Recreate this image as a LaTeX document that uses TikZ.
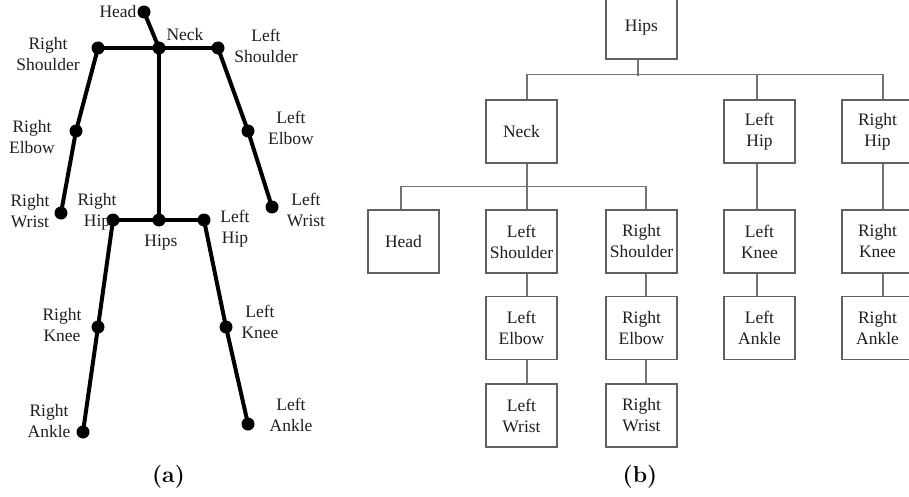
\documentclass[tikz,border=0pt]{standalone}
\usepackage{fontspec}
\newfontfamily\tms{Liberation Serif}
\begin{document}
\begin{tikzpicture}[x=1pt,y=-1pt,
  joint/.style={circle,fill=black,inner sep=0pt,minimum size=13pt},
  bone/.style={line width=4pt,black},
  lbl/.style={font=\tms\fontsize{17.5}{21}\selectfont,text=black!88,align=center,inner sep=0pt},
  tbox/.style={draw=black!62,line width=1.4pt,minimum width=71pt,minimum height=63pt,inner sep=0pt,
               font=\tms\fontsize{17.5}{21}\selectfont,text=black!88,align=center},
  conn/.style={draw=black!55,line width=1.4pt},
  captext/.style={font=\bfseries\fontsize{23}{27}\selectfont,anchor=base,inner sep=0pt}]
\useasboundingbox[fill=white] (0,0) rectangle (909,497);

% ---------- (a) skeleton ----------
\node[joint] (head) at (144,12) {};
\node[joint] (neck) at (159,48) {};
\node[joint] (rsh) at (98,48) {};
\node[joint] (lsh) at (218,48) {};
\node[joint] (relb) at (76,131) {};
\node[joint] (lelb) at (248,131) {};
\node[joint] (rwr) at (61,213) {};
\node[joint] (lwr) at (272,207) {};
\node[joint] (hips) at (159,220) {};
\node[joint] (rhip) at (113,220) {};
\node[joint] (lhip) at (204,220) {};
\node[joint] (rkn) at (98,327) {};
\node[joint] (lkn) at (226,327) {};
\node[joint] (rank) at (83,432) {};
\node[joint] (lank) at (248,424) {};

\draw[bone] (head.center) -- (neck.center);
\draw[bone] (rsh.center) -- (lsh.center);
\draw[bone] (neck.center) -- (hips.center);
\draw[bone] (rsh.center) -- (relb.center) -- (rwr.center);
\draw[bone] (lsh.center) -- (lelb.center) -- (lwr.center);
\draw[bone] (rhip.center) -- (lhip.center);
\draw[bone] (rhip.center) -- (rkn.center) -- (rank.center);
\draw[bone] (lhip.center) -- (lkn.center) -- (lank.center);

\node[lbl] (Lhead) at (118,12) {Head};
\node[lbl] (Lneck) at (185,35) {Neck};
\node[lbl] (Lrsh) at (48,54) {Right\\Shoulder};
\node[lbl] (Llsh) at (266,46) {Left\\Shoulder};
\node[lbl] (Lrelb) at (32,137) {Right\\Elbow};
\node[lbl] (Llelb) at (291,128) {Left\\Elbow};
\node[lbl] (Lrwr) at (30,211) {Right\\Wrist};
\node[lbl] (Lrhip) at (97,212) {Right\\Hip};
\node[lbl] (Llwr) at (306,210) {Left\\Wrist};
\node[lbl] (Llhip) at (235,229) {Left\\Hip};
\node[lbl] (Lhips) at (161,243) {Hips};
\node[lbl] (Lrkn) at (62,325) {Right\\Knee};
\node[lbl] (Llkn) at (260,322) {Left\\Knee};
\node[lbl] (Lrank) at (49,421) {Right\\Ankle};
\node[lbl] (Llank) at (291,415) {Left\\Ankle};

\node[captext] (capa) at (168.5,482) {(a)};

% ---------- (b) hierarchy ----------
\node[tbox] (Thips) at (641.5,27.5) {Hips};
\node[tbox] (Tneck) at (521.5,131.5) {Neck};
\node[tbox] (Tlhip) at (759.5,131.5) {Left\\Hip};
\node[tbox] (Trhip) at (877.5,131.5) {Right\\Hip};
\node[tbox] (Thead) at (403.5,241.5) {Head};
\node[tbox] (Tlsh) at (521.5,241.5) {Left\\Shoulder};
\node[tbox] (Trsh) at (641.5,241.5) {Right\\Shoulder};
\node[tbox] (Tlkn) at (759.5,241.5) {Left\\Knee};
\node[tbox] (Trkn) at (877.5,241.5) {Right\\Knee};
\node[tbox] (Tlelb) at (521.5,328) {Left\\Elbow};
\node[tbox] (Trelb) at (641.5,328) {Right\\Elbow};
\node[tbox] (Tlank) at (759.5,328) {Left\\Ankle};
\node[tbox] (Trank) at (877.5,328) {Right\\Ankle};
\node[tbox] (Tlwr) at (521.5,415.5) {Left\\Wrist};
\node[tbox] (Trwr) at (641.5,415.5) {Right\\Wrist};

\draw[conn] ([xshift=-3.5pt]Thips.south) -- ++(0,16);
\draw[conn] ([xshift=5.5pt]Tneck.north) -- ++(0,-25) -| ([xshift=5.5pt]Trhip.north);
\draw[conn] ([xshift=-2.5pt]Tlhip.north) -- ++(0,-25);
\draw[conn] ([xshift=-2.5pt]Thead.north) -- ++(0,-23) -| ([xshift=4.5pt]Trsh.north);
\draw[conn] ([xshift=5.5pt]Tneck.south) -- ([xshift=5.5pt]Tlsh.north);
\draw[conn] ([xshift=5.5pt]Tlsh.south) -- ([xshift=5.5pt]Tlelb.north);
\draw[conn] ([xshift=5.5pt]Tlelb.south) -- ([xshift=5.5pt]Tlwr.north);
\draw[conn] ([xshift=4.5pt]Trsh.south) -- ([xshift=4.5pt]Trelb.north);
\draw[conn] ([xshift=4.5pt]Trelb.south) -- ([xshift=4.5pt]Trwr.north);
\draw[conn] ([xshift=-2.5pt]Tlhip.south) -- ([xshift=-2.5pt]Tlkn.north);
\draw[conn] ([xshift=-2.5pt]Tlkn.south) -- ([xshift=-2.5pt]Tlank.north);
\draw[conn] ([xshift=5.5pt]Trhip.south) -- ([xshift=5.5pt]Trkn.north);
\draw[conn] ([xshift=5.5pt]Trkn.south) -- ([xshift=5.5pt]Trank.north);

\node[captext] (capb) at (640,482) {(b)};
\end{tikzpicture}
\end{document}
